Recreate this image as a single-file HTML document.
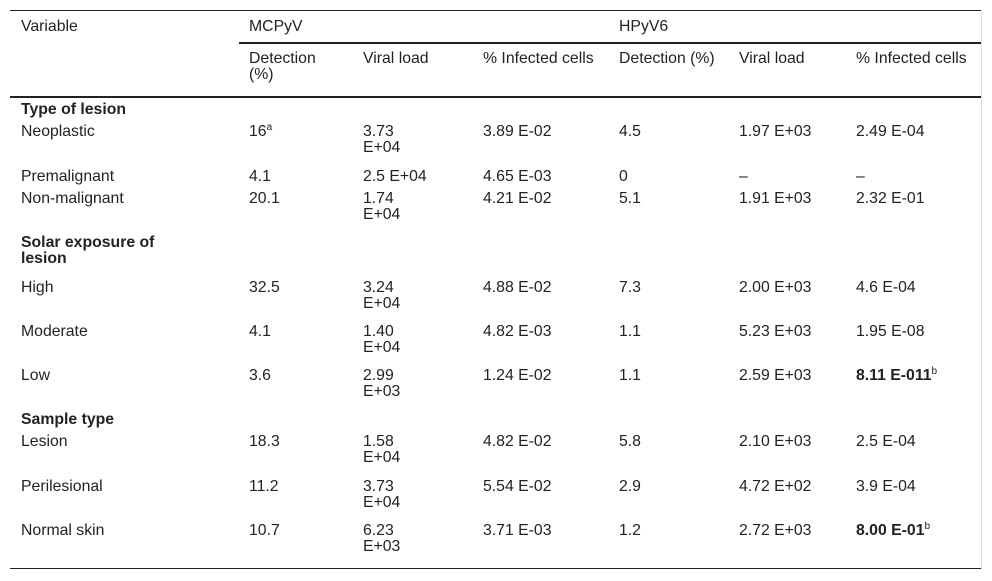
<!DOCTYPE html>
<html><head><meta charset="utf-8"><style>
body{margin:0;width:992px;height:581px;background:#fff;position:relative;font-family:"Liberation Sans",sans-serif;font-size:15.8px;color:#222;overflow:hidden}
.t{position:absolute;line-height:16px;white-space:nowrap}
.l{position:absolute;background:#222}
sup{font-size:10px;line-height:0;vertical-align:6px}
</style></head><body>
<div class="l" style="left:10px;top:10px;width:971px;height:1px"></div>
<div class="l" style="left:239px;top:42px;width:742px;height:2px"></div>
<div class="l" style="left:10px;top:96px;width:971px;height:2px"></div>
<div class="l" style="left:10px;top:568px;width:971px;height:1px"></div>
<div class="l" style="left:981px;top:10px;width:1px;height:559px;background:#ddd"></div>
<div id="c"></div>
<script>
const rows=[
[19,"Variable","MCPyV","","","HPyV6","",""],
[51,"","Detection<br>(%)","Viral load","% Infected cells","Detection (%)","Viral load","% Infected cells"],
[102,"<b>Type of lesion</b>"],
[124,"Neoplastic","16<sup>a</sup>","3.73<br>E+04","3.89 E-02","4.5","1.97 E+03","2.49 E-04"],
[169,"Premalignant","4.1","2.5 E+04","4.65 E-03","0","–","–"],
[191,"Non-malignant","20.1","1.74<br>E+04","4.21 E-02","5.1","1.91 E+03","2.32 E-01"],
[235,"<b>Solar exposure of<br>lesion</b>"],
[280,"High","32.5","3.24<br>E+04","4.88 E-02","7.3","2.00 E+03","4.6 E-04"],
[324,"Moderate","4.1","1.40<br>E+04","4.82 E-03","1.1","5.23 E+03","1.95 E-08"],
[368,"Low","3.6","2.99<br>E+03","1.24 E-02","1.1","2.59 E+03","<b>8.11 E-011</b><sup>b</sup>"],
[412,"<b>Sample type</b>"],
[434,"Lesion","18.3","1.58<br>E+04","4.82 E-02","5.8","2.10 E+03","2.5 E-04"],
[479,"Perilesional","11.2","3.73<br>E+04","5.54 E-02","2.9","4.72 E+02","3.9 E-04"],
[523,"Normal skin","10.7","6.23<br>E+03","3.71 E-03","1.2","2.72 E+03","<b>8.00 E-01</b><sup>b</sup>"]];
const xs=[21,249,363,483,619,739,856];
const c=document.getElementById('c');
rows.forEach((r,i)=>{for(let j=1;j<r.length;j++){if(!r[j])continue;const d=document.createElement('div');d.className='t';d.style.left=xs[j-1]+'px';d.style.top=r[0]+'px';d.innerHTML=r[j];


c.appendChild(d);}});
</script>
</body></html>
